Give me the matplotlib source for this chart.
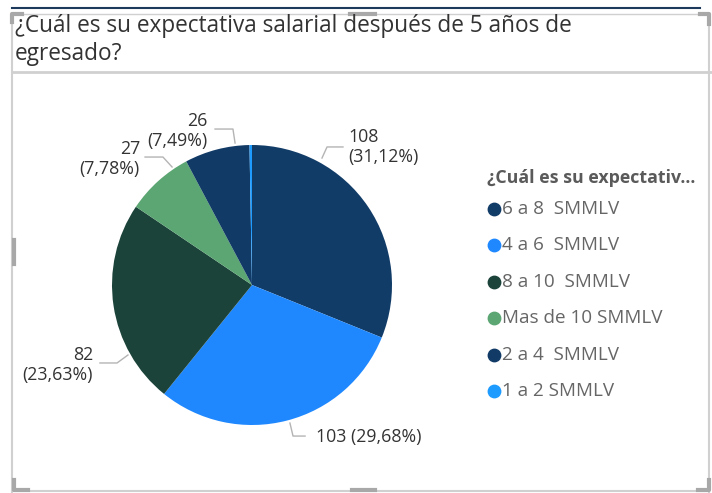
import numpy as np
import matplotlib
matplotlib.use("Agg")
import matplotlib.pyplot as plt

# data
categories = ["6 a 8  SMMLV", "4 a 6  SMMLV", "8 a 10  SMMLV", "Mas de 10 SMMLV", "2 a 4  SMMLV", "1 a 2 SMMLV"]
counts = [108, 103, 82, 27, 26, 1]
colors = ["#123C68", "#1F88FF", "#1B4339", "#5BA673", "#113A66", "#1E9BFF"]

title = "¿Cuál es su expectativa salarial después de 5 años de\negresado?"
legend_title = "¿Cuál es su expectativ..."

W, H = 712, 493
fig = plt.figure(figsize=(W / 100, H / 100), dpi=100)
plt.rcParams['font.family'] = ['Open Sans', 'DejaVu Sans']

# overlay in pixel coordinates for frame, title and legend
ov = fig.add_axes([0, 0, 1, 1])
ov.set_xlim(0, W)
ov.set_ylim(H, 0)
ov.axis("off")

# card frame
frame_c = "#d0d0d0"
ov.plot([12, 12], [14, 492], color=frame_c, lw=1.5)
ov.plot([709, 709], [14, 492], color=frame_c, lw=1.5)
ov.plot([12, 709], [491, 491], color=frame_c, lw=1.5)
ov.plot([12, 709], [14, 14], color=frame_c, lw=1.0)
ov.plot([12, 700], [8, 8], color="#1d3a5c", lw=1.5)
ov.plot([12, 712], [72, 72], color=frame_c, lw=2)
# resize handles
hc = "#a8a8a8"
ov.plot([12, 12, 22], [22, 14, 14], color=hc, lw=3)
ov.plot([350, 375], [14, 14], color=hc, lw=3)
ov.plot([700, 709, 709], [14, 14, 24], color=hc, lw=3)
ov.plot([14, 14], [240, 264], color=hc, lw=3)
ov.plot([14, 14, 28], [480, 490, 490], color=hc, lw=3)
ov.plot([352, 375], [490, 490], color=hc, lw=3)
ov.plot([698, 709, 709], [490, 490, 480], color=hc, lw=3)

ov.text(15, 40, title, fontsize=16.3, color="#333333", va="center", ha="left",
        linespacing=1.2)

# legend
ov.text(487, 178, legend_title, fontsize=12.8, fontweight="bold", color="#5a5a5a",
        va="center", ha="left")
leg_y0, leg_dy = 209, 36.4
for i, (cat, col) in enumerate(zip(categories, colors)):
    y = leg_y0 + i * leg_dy
    ov.scatter([494], [y], s=80, color=col, zorder=3)
    ov.text(502, y, cat, fontsize=13.6, color="#666666", va="center", ha="left")

# pie
cx, cy, r = 252, 285, 140
pax = fig.add_axes([(cx - r) / W, (H - cy - r) / H, 2 * r / W, 2 * r / H])
pax.pie(counts, colors=colors, startangle=90, counterclock=False,
        wedgeprops=dict(linewidth=0))
pax.set_xlim(-1, 1)
pax.set_ylim(-1, 1)
pax.set_aspect("auto")

total = sum(counts)
pct = [f"({c / total * 100:.2f}%)".replace(".", ",") for c in counts]

# leader lines (pie data units) and label anchors
leaders = [
    ([0.50, 0.536, 0.65], [0.907, 0.986, 0.986], 0.686, 0.986, "left", "\n"),
    ([0.271, 0.293, 0.379], [-0.986, -1.079, -1.079], 0.457, -1.086, "left", " "),
    ([-0.886, -0.964, -1.086], [-0.50, -0.557, -0.557], -1.136, -0.571, "right", "\n"),
    ([-0.571, -0.636, -0.764], [0.843, 0.914, 0.914], -0.80, 0.90, "right", "\n"),
    ([-0.121, -0.136, -0.264], [1.014, 1.114, 1.114], -0.321, 1.10, "right", "\n"),
]
for i, (lx, ly, tx, ty, ha, sep) in enumerate(leaders):
    pax.plot(lx, ly, color="#b4b4b4", lw=1, clip_on=False)
    pax.text(tx, ty, f"{counts[i]}{sep}{pct[i]}", fontsize=12.8, color="#333333",
             ha=ha, va="center", multialignment=ha, linespacing=1.2, clip_on=False)

fig.savefig("out.png", dpi=100)
